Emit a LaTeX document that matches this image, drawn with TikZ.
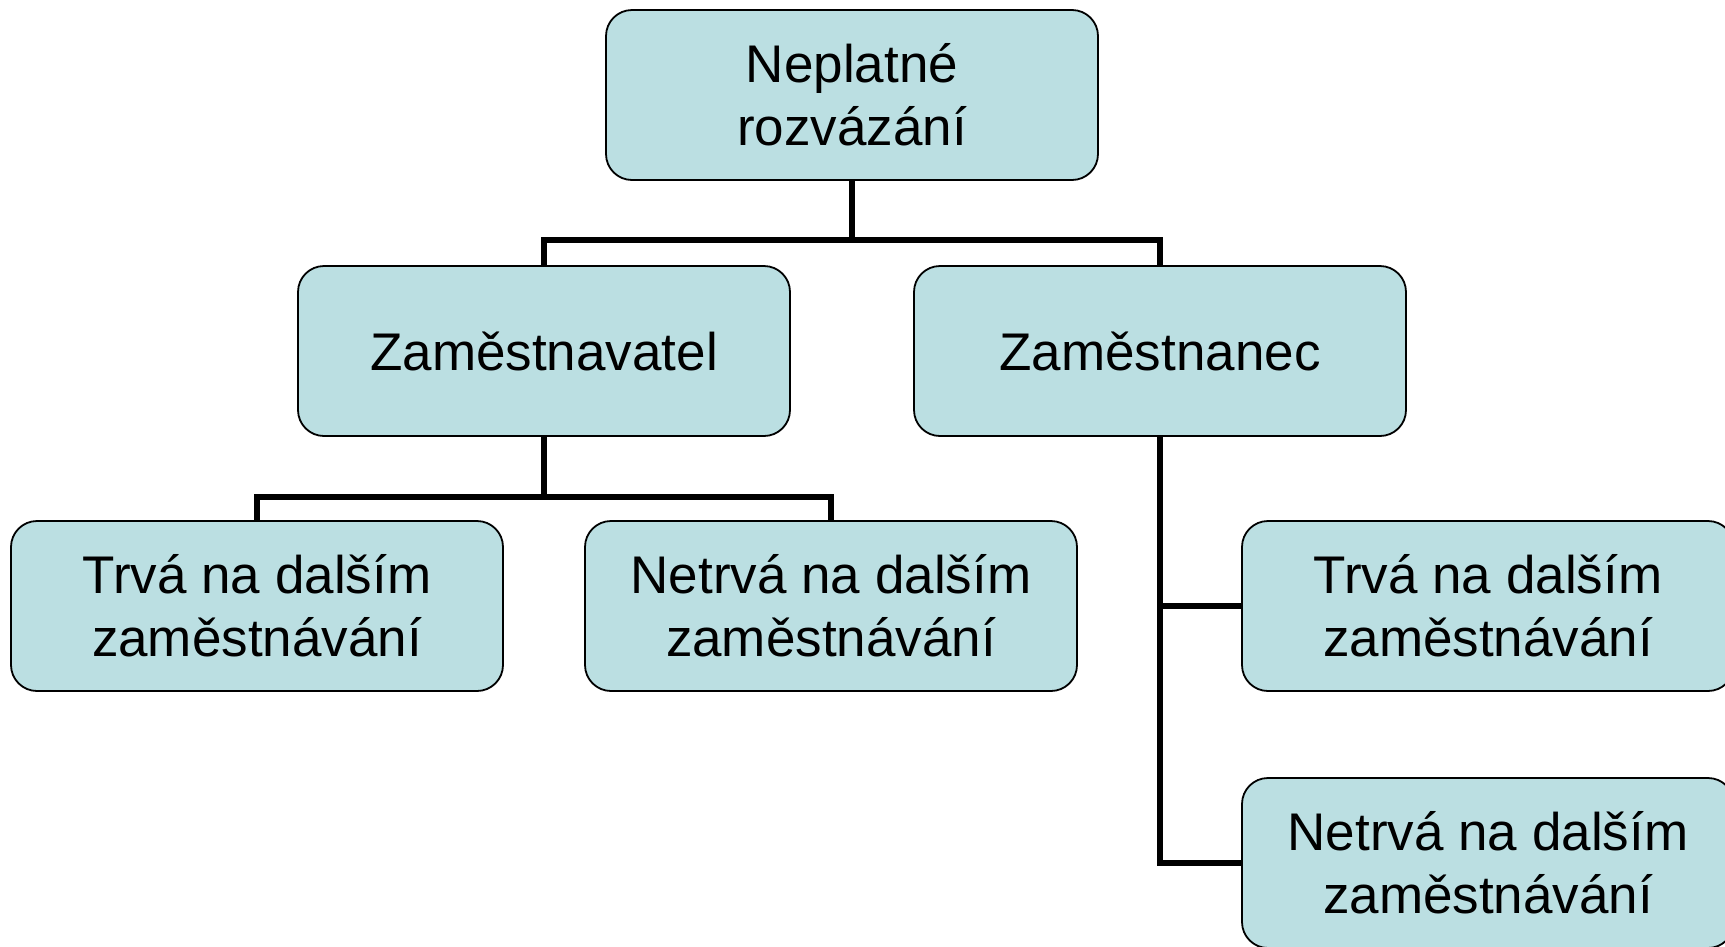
\documentclass[tikz,border=0pt]{standalone}
\usepackage{fontspec}
\setmainfont{Liberation Sans}
\definecolor{boxfill}{HTML}{BBDFE2}
\begin{document}
\begin{tikzpicture}[
            x=1pt, y=-1pt,
            orgbox/.style = {draw=black, line width=1.8pt, fill=boxfill, rounded corners=26pt,
                minimum width=492pt, minimum height=170pt, align=center,
                font=\fontsize{53}{63}\selectfont, inner sep=0pt},
            link/.style = {draw=black, line width=5.5pt}
        ]
            \useasboundingbox (0,0) rectangle (1725,946);

            \node[orgbox] (root) at (852,95) {Neplatné\\rozvázání};
            \node[orgbox] (empr) at (544,351) {Zaměstnavatel};
            \node[orgbox] (empe) at (1160,351) {Zaměstnanec};
            \node[orgbox] (emprA) at (257,606) {Trvá na dalším\\zaměstnávání};
            \node[orgbox] (emprB) at (831,606) {Netrvá na dalším\\zaměstnávání};
            \node[orgbox] (empeA) at (1488,606) {Trvá na dalším\\zaměstnávání};
            \node[orgbox] (empeB) at (1488,863) {Netrvá na dalším\\zaměstnávání};

            \coordinate (rootfork) at (852,240);
            \coordinate (emprfork) at (544,497);

            \begin{scope}
                \draw[link] (root.south) -- (rootfork);
                \draw[link] (empr.north) -- (empr.north |- rootfork) -- (empe.north |- rootfork) -- (empe.north);
                \draw[link] (empr.south) -- (emprfork);
                \draw[link] (emprA.north) -- (emprA.north |- emprfork) -- (emprB.north |- emprfork) -- (emprB.north);
                \draw[link] (empe.south) -- (empe.south |- empeB.west) -- (empeB.west);
                \draw[link] (empe.south |- empeA.west) -- (empeA.west);
            \end{scope}
        \end{tikzpicture}
\end{document}
